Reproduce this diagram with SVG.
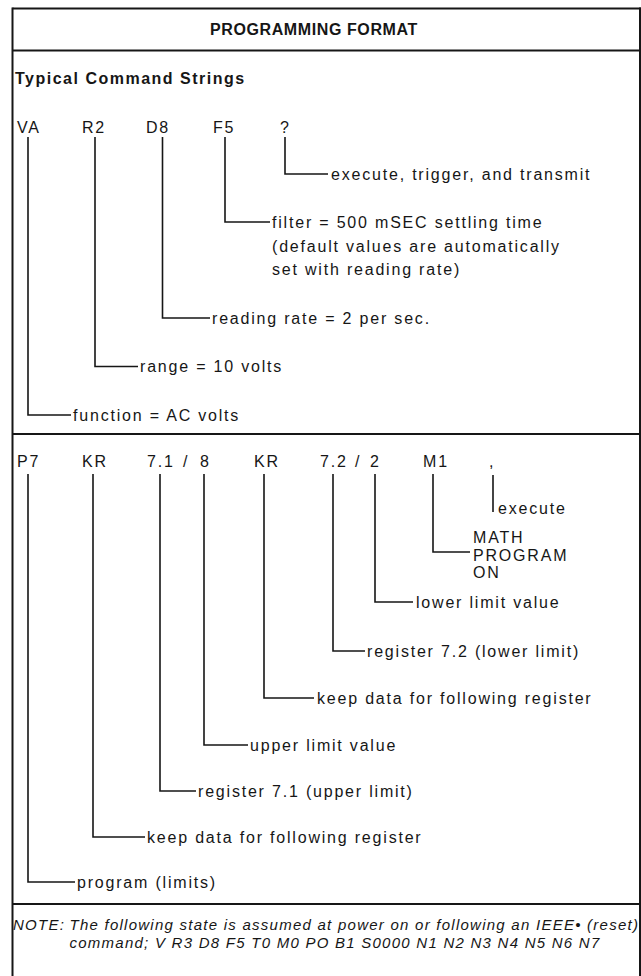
<svg xmlns="http://www.w3.org/2000/svg" width="641" height="976" viewBox="0 0 641 976">
<style>
text{font-family:"Liberation Sans",Arial,Helvetica,sans-serif;fill:#161616}
.t{font-weight:bold;font-size:16px;letter-spacing:0.6px}
.h{font-weight:bold;font-size:16px;letter-spacing:1.5px}
.c{font-size:16px;letter-spacing:1.8px}
.l{font-size:16px;letter-spacing:1.8px}
.n{font-size:15px;font-style:italic;letter-spacing:1.25px}
.frame{stroke:#161616;stroke-width:2;fill:none}
.conn path{stroke:#161616;stroke-width:1.6;fill:none}
</style>
<rect width="641" height="976" fill="#fff"/>
<g id="frame" class="frame">
<path d="M12.5 8.5H641M12.5 50.5H641M12.5 434H641M12.5 904H641"/>
<path d="M12.5 7.5V976M640 7.5V976"/>
</g>
<g id="title"><text class="t" x="210" y="35">PROGRAMMING FORMAT</text></g>
<g id="heading"><text class="h" x="15" y="84">Typical Command Strings</text></g>
<g id="code-VA"><text class="c" x="17" y="133">VA</text></g>
<g id="code-R2"><text class="c" x="82" y="133">R2</text></g>
<g id="code-D8"><text class="c" x="146" y="133">D8</text></g>
<g id="code-F5"><text class="c" x="213" y="133">F5</text></g>
<g id="code-q"><text class="c" x="280" y="133">?</text></g>
<g id="label-transmit"><text class="l" x="331" y="180">execute, trigger, and transmit</text></g>
<g id="label-filter"><text class="l" x="272" y="228">filter = 500 mSEC settling time</text><text class="l" x="272" y="252">(default values are automatically</text><text class="l" x="272" y="275">set with reading rate)</text></g>
<g id="label-rate"><text class="l" x="212" y="324">reading rate = 2 per sec.</text></g>
<g id="label-range"><text class="l" x="140" y="372">range = 10 volts</text></g>
<g id="label-function"><text class="l" x="73" y="421">function = AC volts</text></g>
<g id="code-P7"><text class="c" x="17" y="467">P7</text></g>
<g id="code-KR1"><text class="c" x="82" y="467">KR</text></g>
<g id="code-71"><text class="c" x="147" y="467">7.1</text></g>
<g id="code-slash1"><text class="c" x="183" y="467">/</text></g>
<g id="code-8"><text class="c" x="200" y="467">8</text></g>
<g id="code-KR2"><text class="c" x="254" y="467">KR</text></g>
<g id="code-72"><text class="c" x="320" y="467">7.2</text></g>
<g id="code-slash2"><text class="c" x="355" y="467">/</text></g>
<g id="code-2"><text class="c" x="370" y="467">2</text></g>
<g id="code-M1"><text class="c" x="423" y="467">M1</text></g>
<g id="code-comma"><text class="c" x="489" y="467">,</text></g>
<g id="label-execute"><text class="l" x="498" y="514">execute</text></g>
<g id="label-math"><text class="l" x="473" y="543">MATH</text><text class="l" x="473" y="561">PROGRAM</text><text class="l" x="473" y="578">ON</text></g>
<g id="label-lower-value"><text class="l" x="416" y="608">lower limit value</text></g>
<g id="label-reg72"><text class="l" x="367" y="657">register 7.2 (lower limit)</text></g>
<g id="label-keep2"><text class="l" x="317" y="704">keep data for following register</text></g>
<g id="label-upper-value"><text class="l" x="250" y="751">upper limit value</text></g>
<g id="label-reg71"><text class="l" x="198" y="797">register 7.1 (upper limit)</text></g>
<g id="label-keep1"><text class="l" x="147" y="843">keep data for following register</text></g>
<g id="label-program"><text class="l" x="77" y="888">program (limits)</text></g>
<g id="note"><text class="n" x="13" y="930">NOTE:</text><text class="n" x="69.5" y="930">The following state is assumed at power on or following an IEEE• (reset)</text><text class="n" x="69.5" y="948">command; V R3 D8 F5 T0 M0 PO B1 S0000 N1 N2 N3 N4 N5 N6 N7</text></g>
<g id="connectors" class="conn">
<path d="M285 137V174H328"/>
<path d="M225 137V222H270"/>
<path d="M162.5 137V318H210"/>
<path d="M95 137V366.5H138"/>
<path d="M28 137V415H71"/>
<path d="M493 475V512"/>
<path d="M433 474V552H470"/>
<path d="M375 474V602H413"/>
<path d="M333 474V651H365"/>
<path d="M264 474V698H314"/>
<path d="M204 474V745H248"/>
<path d="M160 474V791H196"/>
<path d="M93 474V837H145"/>
<path d="M28 474V882H75"/>
</g>
</svg>
